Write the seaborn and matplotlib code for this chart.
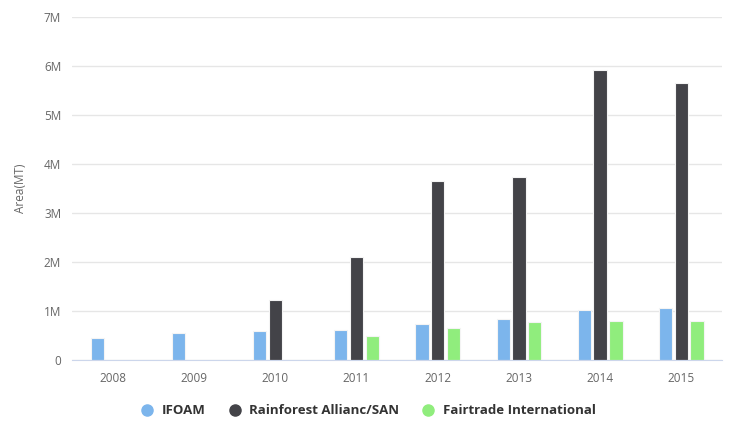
import numpy as np
import pandas as pd
import matplotlib
matplotlib.use("Agg")
import matplotlib.pyplot as plt
import seaborn as sns
from matplotlib.ticker import FuncFormatter, FixedLocator
from matplotlib.lines import Line2D

years = ["2008", "2009", "2010", "2011", "2012", "2013", "2014", "2015"]
ifoam = [0.45, 0.56, 0.59, 0.62, 0.73, 0.84, 1.01, 1.06]
rainforest = [np.nan, np.nan, 1.22, 2.10, 3.65, 3.74, 5.92, 5.65]
fairtrade = [np.nan, np.nan, np.nan, 0.48, 0.65, 0.77, 0.79, 0.79]
series = ["IFOAM", "Rainforest Allianc/SAN", "Fairtrade International"]
colors = ["#7cb5ec", "#434348", "#90ed7d"]

df = pd.DataFrame({
    "year": years * 3,
    "org": [series[0]] * 8 + [series[1]] * 8 + [series[2]] * 8,
    "area": [v * 1e6 for v in ifoam + rainforest + fairtrade],
})

sns.set_style("white")
plt.rcParams["font.family"] = ["Open Sans", "DejaVu Sans"]

fig = plt.figure(figsize=(7.3, 4.25), dpi=100)
ax = fig.add_axes([0.099, 0.153, 0.89, 0.807])

sns.barplot(data=df, x="year", y="area", hue="org", hue_order=series,
            palette=colors, width=0.58, gap=0.15, ax=ax, legend=False,
            saturation=1, edgecolor="#f4f4f4", linewidth=0.8)

ax.set_ylim(0, 7e6)
ax.set_xlim(-0.5, 7.5)
ax.yaxis.set_major_locator(FixedLocator([i * 1e6 for i in range(8)]))
ax.yaxis.set_major_formatter(FuncFormatter(lambda v, p: "0" if v == 0 else f"{int(v / 1e6)}M"))
ax.grid(axis="y", color="#e6e6e6", linewidth=1)
ax.set_axisbelow(True)

for s in ["top", "right", "left"]:
    ax.spines[s].set_visible(False)
ax.spines["bottom"].set_color("#ccd6eb")

ax.tick_params(axis="y", length=0, labelsize=8.5, labelcolor="#666666", pad=8)
ax.tick_params(axis="x", which="major", length=0, labelsize=8.5, labelcolor="#666666", pad=9)
ax.set_xticks(np.arange(-0.5, 8, 1), minor=True)
ax.tick_params(axis="x", which="minor", length=7, color="#ccd6eb", width=1)

ax.set_xlabel("")
ax.set_ylabel("Area(MT)", fontsize=8.5, color="#666666", labelpad=12)

handles = [Line2D([0], [0], marker="o", linestyle="", markersize=8,
                  markerfacecolor=c, markeredgecolor=c) for c in colors]
fig.legend(handles, series, loc="center", bbox_to_anchor=(0.5, 0.033), ncol=3,
           frameon=False, handletextpad=0.1, columnspacing=1.2,
           prop={"weight": "bold", "size": 9.5}, labelcolor="#333333")

fig.savefig("out.png", dpi=100)
